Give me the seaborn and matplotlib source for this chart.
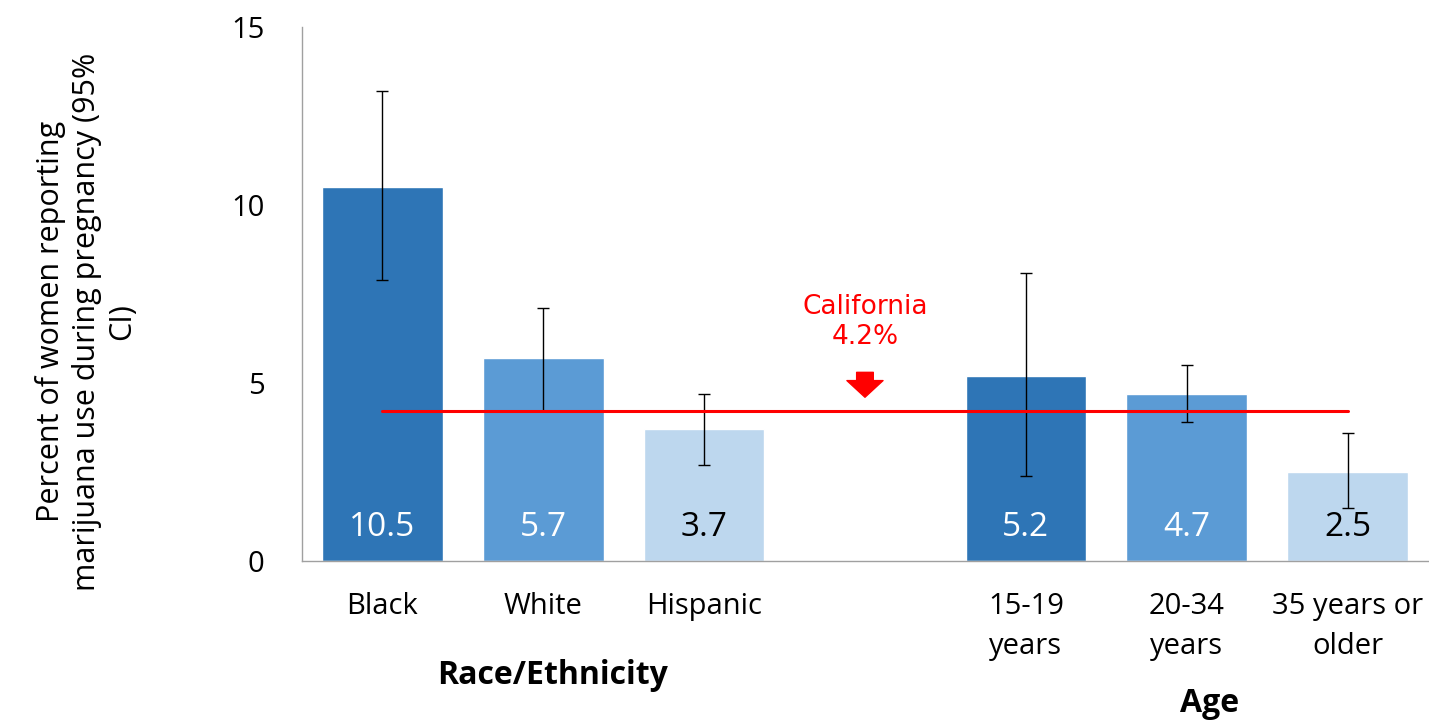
import numpy as np
import pandas as pd
import matplotlib.pyplot as plt
import seaborn as sns

categories = ['Black', 'White', 'Hispanic', '', '15-19\nyears', '20-34\nyears', '35 years or\nolder']
values = [10.5, 5.7, 3.7, np.nan, 5.2, 4.7, 2.5]
ci_low = [7.9, 4.2, 2.7, np.nan, 2.4, 3.9, 1.5]
ci_high = [13.2, 7.1, 4.7, np.nan, 8.1, 5.5, 3.6]
state_rate = 4.2

colors = ['#2E75B6', '#5B9BD5', '#BDD7EE', '#FFFFFF', '#2E75B6', '#5B9BD5', '#BDD7EE']
label_colors = ['white', 'white', 'black', 'black', 'white', 'white', 'black']

df = pd.DataFrame({'group': categories, 'pct': values})

sns.set_style('white')
plt.rcParams['font.family'] = ['Open Sans', 'DejaVu Sans']
plt.rcParams['text.color'] = 'black'
plt.rcParams['xtick.color'] = 'black'
plt.rcParams['ytick.color'] = 'black'
plt.rcParams['axes.labelcolor'] = 'black'

fig = plt.figure(figsize=(14.29, 7.2), dpi=100)
ax = fig.add_axes([0.2113, 0.2208, 0.7880, 0.7417])

sns.barplot(data=df, x='group', y='pct', hue='group', palette=colors,
            legend=False, width=0.75, errorbar=None, ax=ax, saturation=1)

pos = np.arange(len(categories))
vals = np.array(values)
lo = vals - np.array(ci_low)
hi = np.array(ci_high) - vals
ax.errorbar(pos, vals, yerr=[lo, hi], fmt='none', ecolor='black',
            elinewidth=1, capsize=4, capthick=1)

for i, v in enumerate(values):
    if np.isnan(v):
        continue
    ax.text(i, 0.95, f'{v:.1f}', ha='center', va='center',
            fontsize=24, color=label_colors[i])

# California line
ax.plot([0, len(categories) - 1], [state_rate, state_rate], color='#FF0000', lw=2.2)
ax.annotate('', xy=(3, 4.6), xytext=(3, 5.3),
            arrowprops=dict(facecolor='#FF0000', edgecolor='#FF0000',
                            width=12, headwidth=26, headlength=12))
ax.text(3, 6.72, f'California\n{state_rate}%', ha='center', va='center',
        color='#FF0000', fontsize=19, family='DejaVu Sans', linespacing=1.2)

ax.set_xlim(-0.5, len(categories) - 0.5)
ax.set_ylim(0, 15)
ax.set_yticks([0, 5, 10, 15])
ax.set_xticks(np.arange(-0.5, len(categories), 1.0))
ax.set_xticklabels([])
ax.set_xticks(pos, minor=True)
ax.set_xticklabels(categories, minor=True, fontsize=21, linespacing=1.5)
ax.tick_params(axis='x', which='minor', length=0, pad=22)
ax.tick_params(axis='x', which='major', length=10, color='#A0A0A0', direction='out')
ax.tick_params(axis='y', length=10, color='#A0A0A0', direction='out', labelsize=21, pad=17)
ax.set_xlabel('')
ax.set_ylabel('Percent of women reporting\nmarijuana use during pregnancy (95%\nCI)',
              fontsize=22, linespacing=1.25)
ax.yaxis.set_label_coords(-0.146, 0.448)

for s in ['top', 'right']:
    ax.spines[s].set_visible(False)
for s in ['left', 'bottom']:
    ax.spines[s].set_color('#A0A0A0')
    ax.spines[s].set_linewidth(1)

fig.text(553 / 1429, 1 - 675 / 720, 'Race/Ethnicity', ha='center', va='center',
         fontsize=23, fontweight='bold')
fig.text(1210 / 1429, 1 - 703 / 720, 'Age', ha='center', va='center',
         fontsize=23, fontweight='bold')

fig.savefig('out.png', dpi=100)
